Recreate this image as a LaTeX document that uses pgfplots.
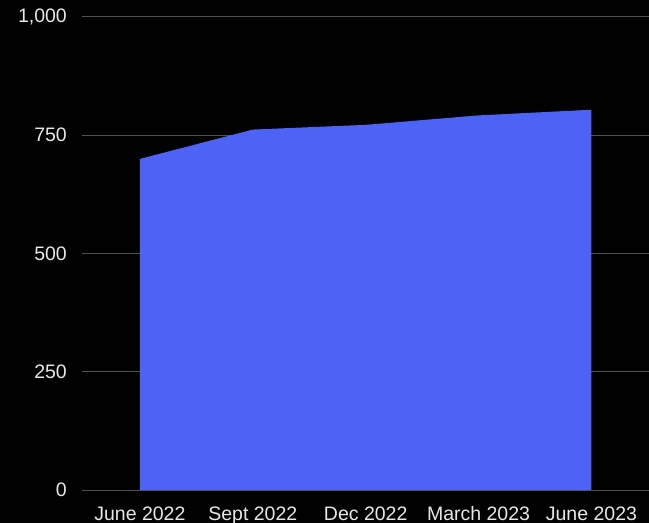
\documentclass[border=0pt]{standalone}
\usepackage{fontspec}
\setmainfont{Liberation Sans}
\usepackage{pgfplots}
\pgfplotsset{compat=1.18}
\definecolor{areablue}{HTML}{4C63F5}
\definecolor{gridgray}{HTML}{505050}
\definecolor{axgray}{HTML}{9A9A9A}
\definecolor{txt}{HTML}{E8E8E8}
\begin{document}
\begin{tikzpicture}
\fill[black] (0,0) rectangle (649bp,523bp);
\begin{axis}[
  at={(82bp,33bp)}, anchor=south west,
  scale only axis, width=567bp, height=473bp,
  xmin=-0.513, xmax=4.51, ymin=0, ymax=1000,
  axis line style={draw=none},
  xtick={0,1,2,3,4},
  xticklabels={June 2022, Sept 2022, Dec 2022, March 2023, June 2023},
  ytick={0,250,500,750,1000},
  major tick length=0pt,
  ymajorgrids, major grid style={gridgray, line width=1bp},
  /pgf/number format/1000 sep={,},
  /pgf/number format/assume math mode=true,
  tick label style={font=\fontsize{19.5bp}{23bp}\selectfont, text=txt},
  y tick label style={anchor=east, inner sep=0pt, xshift=-15bp},
  x tick label style={anchor=base, inner sep=0pt, yshift=-30bp},
  axis on top=false,
]
\addplot[fill=areablue, draw=none] coordinates {
  (0,700) (1,762) (2,772) (3,792) (4,804)
} \closedcycle;
\draw[axgray, line width=1bp] (axis cs:-0.513,0) -- (axis cs:4.51,0);
\end{axis}
\pgfresetboundingbox
\path[use as bounding box] (0,0) rectangle (649bp,523bp);
\end{tikzpicture}
\end{document}
